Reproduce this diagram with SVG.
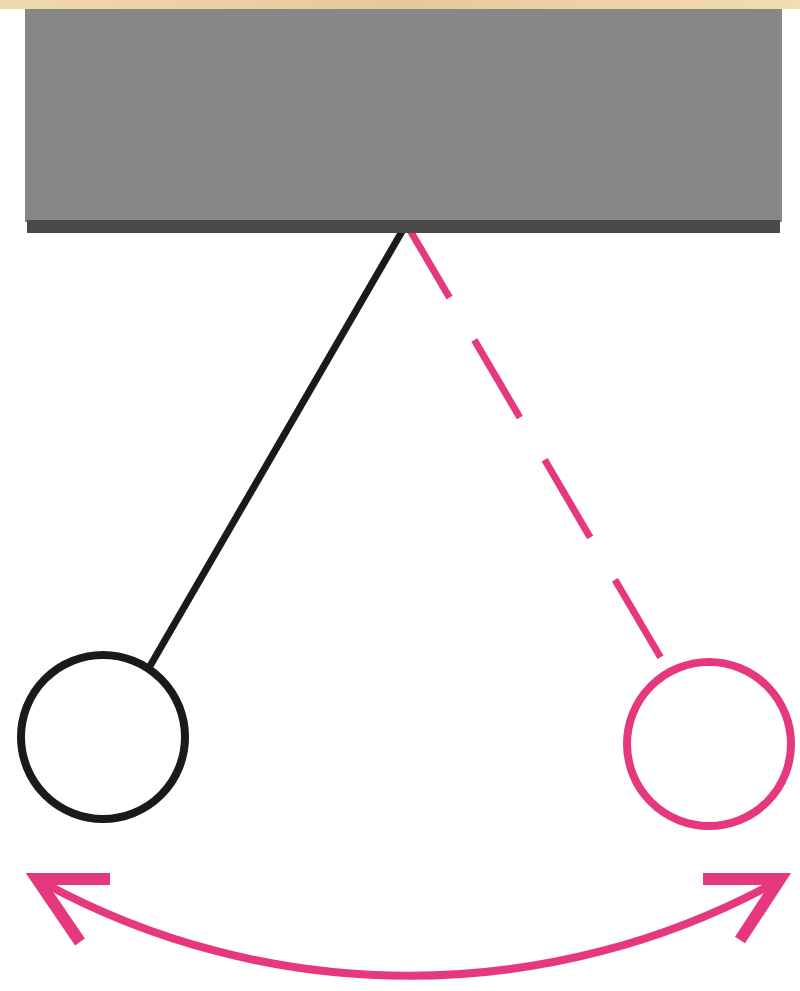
<svg xmlns="http://www.w3.org/2000/svg" width="800" height="991" viewBox="0 0 800 991">
<defs>
<linearGradient id="beige" x1="0" y1="0" x2="1" y2="0">
<stop offset="0" stop-color="#f0d9ae"/>
<stop offset="0.5" stop-color="#e5c99a"/>
<stop offset="1" stop-color="#f3dcb2"/>
</linearGradient>
<style>
.pink{stroke:#e6387f;fill:none}
.blk{stroke:#1a1a1a;fill:none}
</style>
</defs>
<rect width="800" height="991" fill="#ffffff"/>
<rect x="0" y="0" width="800" height="9" fill="url(#beige)"/>
<g id="connectors">
<line id="string-left" class="blk" x1="404" y1="228" x2="150" y2="666" stroke-width="7"/>
<line id="string-right" class="pink" x1="404" y1="220" x2="665" y2="665" stroke-width="7" stroke-dasharray="90 49"/>
<path id="swing-arc" class="pink" d="M42,882 A765 765 0 0 0 776,882" stroke-width="8"/>
<polyline class="pink" points="110,879 37,879 80,942" stroke-width="12" stroke-linejoin="miter"/>
<polyline class="pink" points="703,879 780,879 740,940" stroke-width="12" stroke-linejoin="miter"/>
</g>
<g id="support">
<rect x="25" y="9" width="757" height="213" fill="#878787"/>
<rect x="27" y="220" width="753" height="13" fill="#4a4a4a"/>
</g>
<g id="bob-left">
<circle cx="103" cy="737" r="82" class="blk" stroke-width="8"/>
</g>
<g id="bob-right">
<circle cx="709" cy="744" r="82" class="pink" stroke-width="8"/>
</g>
</svg>
